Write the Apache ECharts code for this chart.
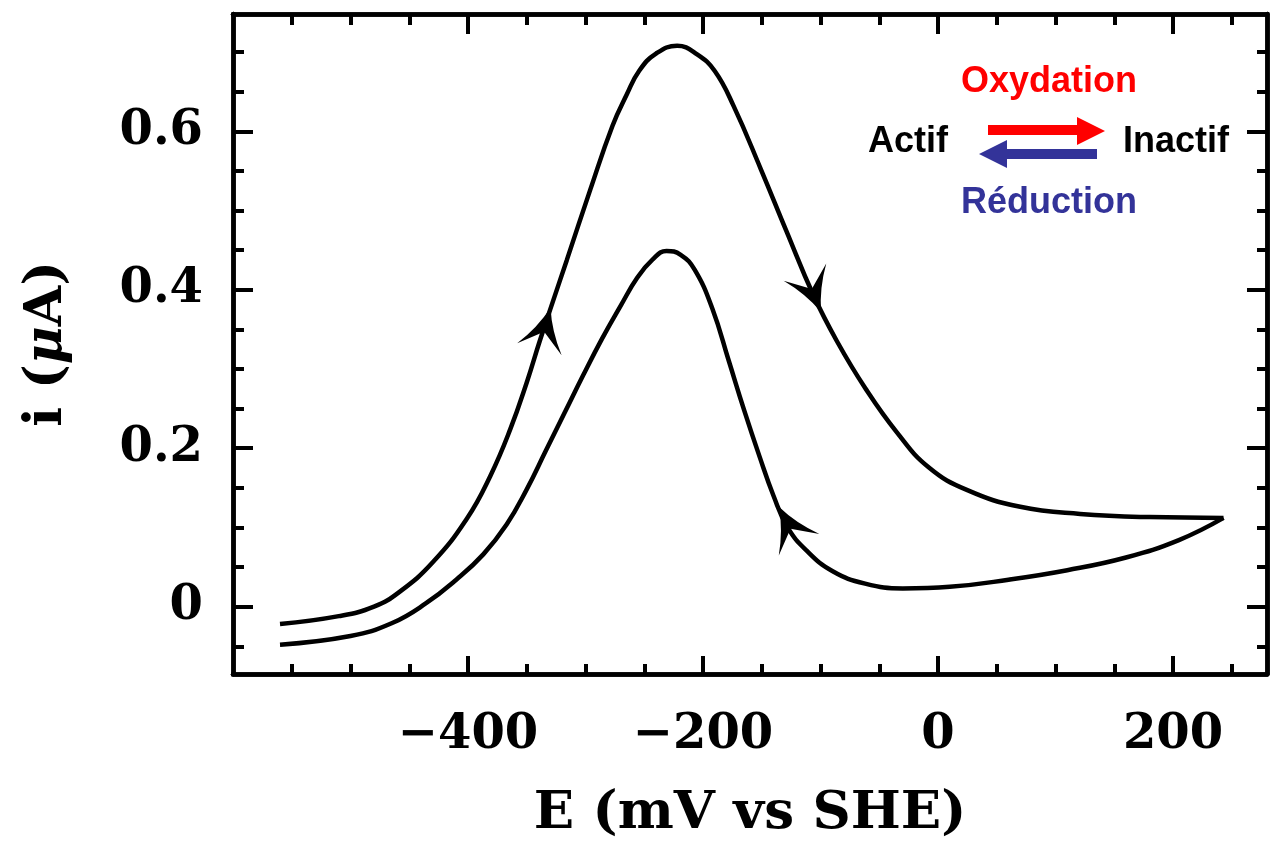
<!DOCTYPE html>
<html>
<head>
<meta charset="utf-8">
<title>Voltammogramme</title>
<script src="https://cdn.jsdelivr.net/npm/echarts@6.0.0/dist/echarts.min.js"></script>
<style>
    html, body { margin: 0; padding: 0; background: #fff; }
    #chart { width: 1270px; height: 846px; }
</style>
</head>
<body>
<div id="chart"></div>
<script>
// balayage aller (oxydation) : E en mV, i en uA
var forwardScan = [
    [-560, -0.022], [-510, -0.012], [-480, 0.0], [-458, 0.019], [-430, 0.056],
    [-401, 0.111], [-381, 0.165], [-364, 0.224], [-350, 0.283], [-339, 0.335],
    [-328, 0.384], [-316, 0.437], [-296, 0.526], [-277, 0.607], [-265, 0.646],
    [-254, 0.677], [-240, 0.698], [-222, 0.708], [-205, 0.697], [-190, 0.676],
    [-174, 0.632], [-151, 0.553], [-129, 0.474], [-106, 0.393], [-86, 0.335],
    [-62, 0.276], [-35, 0.22], [-8, 0.176], [25, 0.147], [70, 0.126],
    [121, 0.117], [180, 0.113], [243, 0.112]
];
// balayage retour (reduction)
var backwardScan = [
    [243, 0.112], [205, 0.084], [160, 0.062], [110, 0.046], [60, 0.034],
    [10, 0.025], [-30, 0.023], [-62, 0.029], [-90, 0.045], [-112, 0.071],
    [-128, 0.1], [-140, 0.14], [-152, 0.19], [-165, 0.248], [-178, 0.31],
    [-192, 0.376], [-207, 0.425], [-219, 0.444], [-231, 0.449], [-243, 0.438],
    [-256, 0.415], [-270, 0.38], [-286, 0.338], [-302, 0.292], [-318, 0.244],
    [-334, 0.196], [-350, 0.148], [-367, 0.104], [-387, 0.066], [-410, 0.034],
    [-436, 0.004], [-465, -0.021], [-500, -0.037], [-560, -0.048]
];
// fleches sur les courbes (centre de la pointe)
var arrowPoints = [[-334.5, 0.351], [-106.4, 0.397], [-126.8, 0.102]];
var arrowAngles = [-15, -158, 28];

var xMajorTicks = [-400, -200, 0, 200];
var xMinorTicks = [-550, -500, -450, -400, -350, -300, -250, -200, -150, -100, -50, 0, 50, 100, 150, 200, 250];
var yMajorTicks = [0, 0.2, 0.4, 0.6];
var yMinorTicks = [-0.05, 0, 0.05, 0.1, 0.15, 0.2, 0.25, 0.3, 0.35, 0.4, 0.45, 0.5, 0.55, 0.6, 0.65, 0.7];

var X_MIN = -600, X_MAX = 280, Y_MIN = -0.085, Y_MAX = 0.748;
var AXIS_FONT = 'DejaVu Serif';
var NOTE_FONT = 'bold 36px "Liberation Sans", Arial, sans-serif';

function tickAxis(kind, pos, values, len, extra) {
    var ax = {
        type: 'value',
        gridIndex: 0,
        position: pos,
        min: kind === 'x' ? X_MIN : Y_MIN,
        max: kind === 'x' ? X_MAX : Y_MAX,
        axisLine: { show: true, onZero: false, lineStyle: { color: '#000', width: 4.5 } },
        axisTick: { show: true, inside: true, length: len, customValues: values, lineStyle: { color: '#000', width: 4 } },
        axisLabel: { show: false },
        splitLine: { show: false }
    };
    for (var k in extra) ax[k] = extra[k];
    return ax;
}

var labelStyle = {
    show: true,
    fontFamily: AXIS_FONT,
    fontWeight: 'bold',
    fontSize: 48,
    color: '#000'
};

var xMain = tickAxis('x', 'bottom', xMajorTicks, 18, {
    name: 'E (mV vs SHE)',
    nameLocation: 'middle',
    nameGap: 114,
    nameTextStyle: { fontFamily: AXIS_FONT, fontWeight: 'bold', fontSize: 53, color: '#000' },
    axisLabel: Object.assign({}, labelStyle, {
        margin: 38,
        customValues: xMajorTicks,
        formatter: function(v){ return String(v).replace('-', '\u2212'); }
    })
});
var yMain = tickAxis('y', 'left', yMajorTicks, 20, {
    name: 'i ({mu|\u03bc}A)',
    nameLocation: 'middle',
    nameGap: 160,
    nameTextStyle: {
        fontFamily: AXIS_FONT, fontWeight: 'bold', fontSize: 52, color: '#000',
        rich: { mu: { fontFamily: AXIS_FONT, fontWeight: 'bold', fontStyle: 'italic', fontSize: 52, color: '#000' } }
    },
    axisLabel: Object.assign({}, labelStyle, {
        margin: 30,
        customValues: yMajorTicks
    })
});

var chart = echarts.init(document.getElementById('chart'));
var option = {
    backgroundColor: '#fff',
    animation: false,
    grid: { left: 233, right: 3, top: 14, bottom: 171, containLabel: false },
    xAxis: [
        xMain,
        tickAxis('x', 'bottom', xMinorTicks, 10, {}),
        tickAxis('x', 'top', xMajorTicks, 20, {}),
        tickAxis('x', 'top', xMinorTicks, 11, {})
    ],
    yAxis: [
        yMain,
        tickAxis('y', 'left', yMinorTicks, 11, {}),
        tickAxis('y', 'right', yMajorTicks, 20, {}),
        tickAxis('y', 'right', yMinorTicks, 10, {})
    ],
    series: [
        {
            name: 'oxydation',
            type: 'line',
            data: forwardScan,
            smooth: 0.45,
            showSymbol: false,
            lineStyle: { color: '#000', width: 4.5 }
        },
        {
            name: 'reduction',
            type: 'line',
            data: backwardScan,
            smooth: 0.45,
            showSymbol: false,
            lineStyle: { color: '#000', width: 4.5 }
        },
        {
            name: 'fleches',
            type: 'scatter',
            symbol: 'path://M22,0 Q29,21 44,40 L22,23 L0,40 Q15,21 22,0 Z',
            symbolSize: [46, 43],
            itemStyle: { color: '#000', opacity: 1 },
            data: arrowPoints.map(function(p, i){
                return { value: p, symbolRotate: arrowAngles[i] };
            }),
            z: 5
        }
    ],
    // legende Actif / Inactif
    graphic: [
        { type: 'text', x: 1049, y: 82, style: { text: 'Oxydation', font: NOTE_FONT, fill: '#ff0000', align: 'center', verticalAlign: 'middle' } },
        { type: 'text', x: 948, y: 142, style: { text: 'Actif', font: NOTE_FONT, fill: '#000', align: 'right', verticalAlign: 'middle' } },
        { type: 'text', x: 1123, y: 142, style: { text: 'Inactif', font: NOTE_FONT, fill: '#000', align: 'left', verticalAlign: 'middle' } },
        { type: 'text', x: 1049, y: 203, style: { text: 'Réduction', font: NOTE_FONT, fill: '#333399', align: 'center', verticalAlign: 'middle' } },
        { type: 'polygon', shape: { points: [[988, 125], [1077, 125], [1077, 117], [1105, 131], [1077, 145], [1077, 135], [988, 135]] }, style: { fill: '#ff0000' } },
        { type: 'polygon', shape: { points: [[1097, 149], [1007, 149], [1007, 140], [979, 154], [1007, 168], [1007, 159], [1097, 159]] }, style: { fill: '#333399' } }
    ]
};
chart.setOption(option);
</script>
</body>
</html>
